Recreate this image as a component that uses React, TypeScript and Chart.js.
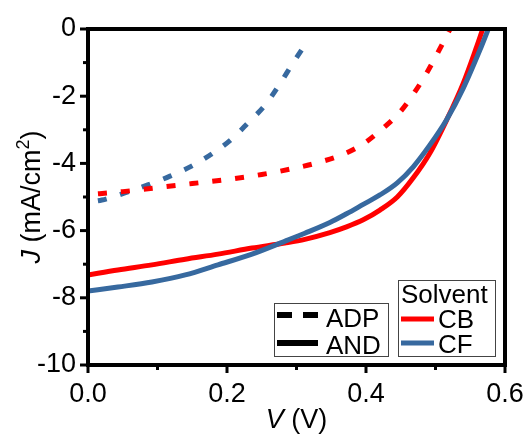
import { useEffect, useRef } from 'react';
import { Chart, registerables } from 'chart.js';

Chart.register(...registerables);

// J–V curves (V in volts, J in mA/cm²)
const vCbAdp = [0, 0.05, 0.1, 0.15, 0.2, 0.25, 0.3, 0.33, 0.365, 0.396, 0.423, 0.449, 0.47, 0.489, 0.506, 0.521];
const jCbAdp = [-4.93, -4.84, -4.72, -4.6, -4.48, -4.33, -4.13, -3.98, -3.75, -3.42, -2.98, -2.47, -1.88, -1.25, -0.6, 0];

const vCfAdp = [0, 0.02, 0.053, 0.086, 0.118, 0.149, 0.18, 0.207, 0.23, 0.255, 0.275, 0.295, 0.318];
const jCfAdp = [-5.15, -5.09, -4.88, -4.64, -4.38, -4.08, -3.69, -3.27, -2.8, -2.26, -1.67, -1.01, -0.3];

const vCbAnd = [0, 0.043, 0.092, 0.14, 0.187, 0.236, 0.283, 0.312, 0.348, 0.372, 0.396, 0.42, 0.445, 0.468, 0.492, 0.516, 0.54, 0.558, 0.568];
const jCbAnd = [-7.32, -7.17, -7.02, -6.85, -6.7, -6.52, -6.37, -6.26, -6.06, -5.89, -5.68, -5.39, -5.0, -4.43, -3.69, -2.71, -1.61, -0.6, 0];

const vCfAnd = [0, 0.043, 0.092, 0.14, 0.187, 0.236, 0.283, 0.312, 0.348, 0.372, 0.396, 0.42, 0.445, 0.468, 0.492, 0.516, 0.54, 0.564, 0.576];
const jCfAnd = [-7.8, -7.68, -7.53, -7.32, -7.02, -6.7, -6.32, -6.08, -5.76, -5.5, -5.22, -4.94, -4.58, -4.1, -3.45, -2.7, -1.76, -0.62, 0];

const xMajor = [0, 0.2, 0.4, 0.6];
const xMinor = [0.1, 0.3, 0.5];
const yMajor = [0, -2, -4, -6, -8, -10];
const yMinor = [-1, -3, -5, -7, -9];

const blendLabels = ['ADP', 'AND'];
const solventTitle = 'Solvent';
const solventLabels = ['CB', 'CF'];

const RED = '#FF0000';
const BLUE = '#37699F';
const FONT = '"Liberation Sans", Arial, sans-serif';

const toPoints = (vs: number[], js: number[]) => vs.map((v, i) => ({ x: v, y: js[i] }));

const decor = {
  id: 'decor',
  afterDraw(chart: any) {
    const { ctx, chartArea: a, scales } = chart;
    const xs = scales.x;
    const ys = scales.y;
    ctx.save();

    // frame
    ctx.strokeStyle = '#000';
    ctx.lineWidth = 4;
    ctx.strokeRect(a.left, a.top, a.right - a.left, a.bottom - a.top);

    // outward tick marks
    ctx.lineWidth = 3;
    ctx.lineCap = 'butt';
    const tick = (x1: number, y1: number, x2: number, y2: number) => {
      ctx.beginPath();
      ctx.moveTo(x1, y1);
      ctx.lineTo(x2, y2);
      ctx.stroke();
    };
    xMajor.forEach((v) => { const p = xs.getPixelForValue(v); tick(p, a.bottom, p, a.bottom + 8); });
    xMinor.forEach((v) => { const p = xs.getPixelForValue(v); tick(p, a.bottom, p, a.bottom + 5); });
    yMajor.forEach((v) => { const p = ys.getPixelForValue(v); tick(a.left, p, a.left - 8, p); });
    yMinor.forEach((v) => { const p = ys.getPixelForValue(v); tick(a.left, p, a.left - 5, p); });

    // axis titles
    ctx.fillStyle = '#000';
    ctx.textBaseline = 'alphabetic';
    ctx.textAlign = 'left';
    const reg = `27px ${FONT}`;
    const ital = `italic 27px ${FONT}`;
    const sup = `18px ${FONT}`;

    // x title: V (V)
    ctx.font = ital;
    const wV = ctx.measureText('V').width;
    ctx.font = reg;
    const wRest = ctx.measureText(' (V)').width;
    const x0 = (a.left + a.right) / 2 - (wV + wRest) / 2;
    ctx.font = ital;
    ctx.fillText('V', x0, 428);
    ctx.font = reg;
    ctx.fillText(' (V)', x0 + wV, 428);

    // y title: J (mA/cm²)
    const parts = [
      { t: 'J', f: ital, dy: 0 },
      { t: ' (mA/cm', f: reg, dy: 0 },
      { t: '2', f: sup, dy: -11 },
      { t: ')', f: reg, dy: 0 },
    ];
    const widths = parts.map((p) => { ctx.font = p.f; return ctx.measureText(p.t).width; });
    const total = widths.reduce((s, w) => s + w, 0);
    ctx.save();
    ctx.translate(40, (a.top + a.bottom) / 2);
    ctx.rotate(-Math.PI / 2);
    let cx = -total / 2;
    parts.forEach((p, i) => {
      ctx.font = p.f;
      ctx.fillText(p.t, cx, p.dy);
      cx += widths[i];
    });
    ctx.restore();

    // legend boxes
    ctx.fillStyle = '#fff';
    ctx.strokeStyle = '#444';
    ctx.lineWidth = 1;
    ctx.fillRect(274, 303, 114, 53);
    ctx.strokeRect(274.5, 303.5, 114, 53);
    ctx.fillRect(398, 280, 97, 76);
    ctx.strokeRect(398.5, 280.5, 97, 76);

    ctx.fillStyle = '#000';
    ctx.font = `26px ${FONT}`;
    ctx.lineWidth = 6;
    ctx.strokeStyle = '#000';
    // ADP: dashed sample
    tick(277, 315, 292, 315);
    tick(303, 315, 318, 315);
    ctx.fillText(blendLabels[0], 326, 327);
    // AND: solid sample
    tick(277, 343, 318, 343);
    ctx.fillText(blendLabels[1], 326, 354);

    ctx.fillText(solventTitle, 401, 303);
    ctx.lineWidth = 5;
    ctx.strokeStyle = RED;
    tick(401, 319, 434, 319);
    ctx.fillText(solventLabels[0], 438, 328);
    ctx.strokeStyle = BLUE;
    tick(401, 343, 434, 343);
    ctx.fillText(solventLabels[1], 438, 353);

    ctx.restore();
  },
};

export default function App() {
  const ref = useRef<HTMLCanvasElement | null>(null);

  useEffect(() => {
    document.body.style.margin = '0';
    const canvas = ref.current;
    if (!canvas) return;

    const line = (data: any[], color: string, dashed: boolean) => ({
      data,
      borderColor: color,
      backgroundColor: color,
      borderWidth: 5,
      borderDash: dashed ? [9, 14] : [],
      borderDashOffset: dashed ? 13 : 0,
      borderCapStyle: 'butt',
      pointRadius: 0,
      fill: false,
      cubicInterpolationMode: 'monotone',
    });

    const chart = new Chart(canvas, {
      type: 'line',
      data: {
        datasets: [
          line(toPoints(vCfAnd, jCfAnd), BLUE, false),
          line(toPoints(vCbAnd, jCbAnd), RED, false),
          line(toPoints(vCbAdp, jCbAdp), RED, true),
          line(toPoints(vCfAdp, jCfAdp), BLUE, true),
        ] as any,
      },
      options: {
        animation: false,
        responsive: false,
        layout: { padding: { left: 0, right: 22, top: 29, bottom: 0 } },
        plugins: { legend: { display: false }, tooltip: { enabled: false } },
        scales: {
          x: {
            type: 'linear',
            min: 0,
            max: 0.6,
            border: { display: false },
            grid: { display: false, drawTicks: false },
            afterFit: (s: any) => { s.height = 74; s.paddingLeft = 0; s.paddingRight = 0; },
            afterBuildTicks: (s: any) => { s.ticks = xMajor.map((v) => ({ value: v })); },
            ticks: {
              color: '#000',
              padding: 13,
              font: { family: FONT, size: 27 },
              callback: (v: any) => Number(v).toFixed(1),
            },
          },
          y: {
            type: 'linear',
            min: -10,
            max: 0,
            border: { display: false },
            grid: { display: false, drawTicks: false },
            afterFit: (s: any) => { s.width = 88; s.paddingTop = 0; s.paddingBottom = 0; },
            afterBuildTicks: (s: any) => { s.ticks = yMajor.map((v) => ({ value: v })); },
            ticks: {
              color: '#000',
              padding: 12,
              font: { family: FONT, size: 27 },
              callback: (v: any) => String(v),
            },
          },
        },
      },
      plugins: [decor],
    });

    return () => chart.destroy();
  }, []);

  return (
    <div style={{ width: 527, height: 439 }}>
      <canvas ref={ref} width={527} height={439} />
    </div>
  );
}
